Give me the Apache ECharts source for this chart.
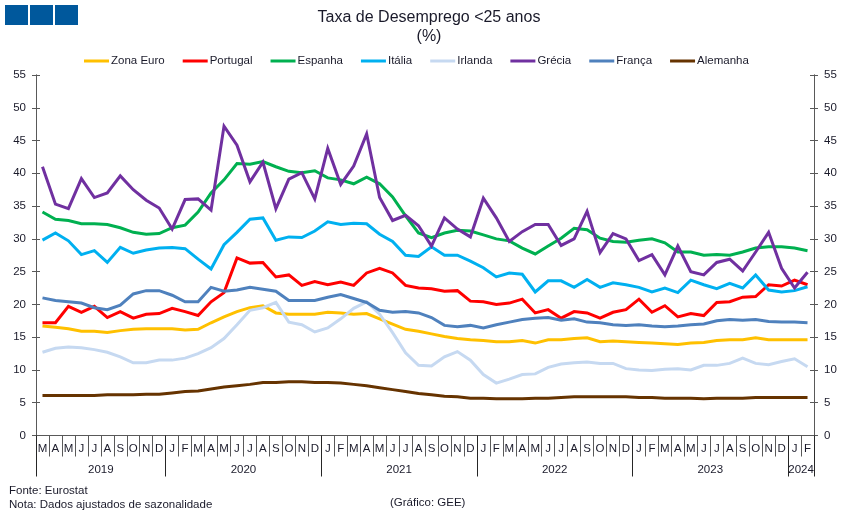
<!doctype html>
<html lang="pt">

<head>
    <meta charset="utf-8">
    <title>Taxa de Desemprego</title>
    <script src="https://cdn.jsdelivr.net/npm/echarts@6/dist/echarts.min.js"></script>
    <style type="text/css">
        html, body { margin: 0; padding: 0; background: #fff; }
        #chart { width: 851px; height: 518px; }
    </style>
</head>

<body>
    <div id="chart"></div>
    <script>
        const months = ['M','A','M','J','J','A','S','O','N','D',
            'J','F','M','A','M','J','J','A','S','O','N','D',
            'J','F','M','A','M','J','J','A','S','O','N','D',
            'J','F','M','A','M','J','J','A','S','O','N','D',
            'J','F','M','A','M','J','J','A','S','O','N','D',
            'J','F'];
        const years = ['2019','2020','2021','2022','2023','2024'];
        const monthsPerYear = [10, 12, 12, 12, 12, 2];

        const zonaEuro = [16.7,16.5,16.3,15.9,15.9,15.7,16.0,16.2,16.3,16.3,
            16.3,16.1,16.2,17.2,18.1,18.9,19.5,19.8,18.7,18.5,18.5,18.5,
            18.8,18.7,18.5,18.6,17.8,17.0,16.2,15.9,15.5,15.1,14.8,14.6,
            14.5,14.3,14.3,14.5,14.1,14.6,14.6,14.8,14.9,14.3,14.4,14.3,
            14.2,14.1,14.0,13.9,14.1,14.2,14.5,14.6,14.6,14.9,14.6,14.6,
            14.6,14.6];
        const portugal = [17.2,17.2,19.7,18.8,19.7,18.0,18.9,17.9,18.5,18.6,
            19.4,18.9,18.3,20.4,21.8,27.1,26.3,26.4,24.2,24.5,22.9,23.5,
            23.0,23.4,22.9,24.8,25.5,24.8,22.9,22.5,22.4,22.0,22.1,20.5,
            20.4,20.0,20.2,20.8,18.7,19.2,17.9,18.9,18.7,17.9,18.8,19.2,
            20.8,18.8,19.8,18.1,18.6,18.3,20.3,20.4,21.1,21.2,23.0,22.8,
            23.7,23.0];
        const espanha = [34.1,33.0,32.8,32.3,32.3,32.2,31.7,31.0,30.7,30.8,
            31.7,32.1,34.1,37.0,39.0,41.5,41.4,41.8,41.0,40.3,40.1,40.4,
            39.3,39.0,38.4,39.4,38.4,36.4,33.5,30.9,30.2,30.9,31.3,31.2,
            30.6,30.0,29.7,28.6,27.7,28.9,30.1,31.6,31.4,30.1,29.6,29.5,
            29.8,30.0,29.4,28.0,28.0,27.5,27.6,27.5,28.0,28.6,28.8,28.8,
            28.6,28.2];
        const italia = [29.8,30.9,29.7,27.6,28.2,26.4,28.7,27.8,28.3,28.6,
            28.7,28.5,26.9,25.4,29.1,31.0,33.0,33.2,29.8,30.3,30.2,31.2,
            32.6,32.2,32.4,32.3,30.7,29.6,27.5,27.3,28.8,27.5,27.5,26.6,
            25.6,24.2,24.8,24.6,21.9,23.6,23.6,22.6,23.8,22.6,23.3,23.0,
            22.6,21.9,22.5,21.8,23.7,23.0,22.4,23.2,22.5,24.5,22.2,21.9,
            22.1,22.7];
        const irlanda = [12.7,13.3,13.5,13.4,13.1,12.7,12.0,11.1,11.1,11.5,
            11.5,11.8,12.5,13.4,14.8,16.9,19.1,19.5,20.3,17.3,16.9,15.8,
            16.4,17.8,19.4,20.4,18.5,15.7,12.6,10.7,10.6,12.0,12.8,11.5,
            9.3,8.0,8.6,9.3,9.4,10.4,10.9,11.1,11.2,11.0,11.0,10.2,
            10.0,9.9,10.1,10.2,10.0,10.7,10.7,11.0,11.8,11.0,10.8,11.3,
            11.7,10.5];
        const grecia = [41.0,35.3,34.6,39.2,36.3,37.0,39.6,37.5,35.9,34.7,
            31.5,36.0,36.1,34.4,47.2,44.3,38.7,41.7,34.6,39.1,40.1,36.1,
            43.8,38.3,41.1,46.0,36.3,32.8,33.6,32.0,28.9,33.2,31.5,30.3,
            36.2,33.2,29.6,31.1,32.2,32.2,29.0,30.0,34.2,27.9,30.8,30.0,
            26.7,27.6,24.5,28.9,25.0,24.5,26.4,26.9,25.1,28.0,31.0,25.5,
            22.5,24.9];
        const franca = [21.0,20.6,20.4,20.2,19.5,19.2,19.9,21.6,22.1,22.1,
            21.4,20.4,20.4,22.6,22.0,22.2,22.6,22.3,22.0,20.6,20.6,20.6,
            21.1,21.5,20.9,20.3,19.1,18.8,18.9,18.7,18.0,16.8,16.6,16.8,
            16.4,16.9,17.3,17.7,17.9,18.0,17.6,17.8,17.3,17.2,16.9,16.8,
            16.9,16.7,16.6,16.7,16.9,17.0,17.5,17.7,17.6,17.7,17.4,17.3,
            17.3,17.2];
        const alemanha = [6.1,6.1,6.1,6.1,6.1,6.2,6.2,6.2,6.3,6.3,
            6.5,6.7,6.8,7.1,7.4,7.6,7.8,8.1,8.1,8.2,8.2,8.1,
            8.1,8.0,7.8,7.6,7.3,7.0,6.7,6.4,6.2,6.0,5.9,5.7,
            5.7,5.6,5.6,5.6,5.7,5.7,5.8,5.9,5.9,5.9,5.9,5.9,
            5.8,5.8,5.7,5.7,5.7,5.6,5.7,5.7,5.7,5.8,5.8,5.8,
            5.8,5.8];

        const seriesNames = ['Zona Euro','Portugal','Espanha','Itália','Irlanda','Grécia','França','Alemanha'];
        const seriesValues = [zonaEuro, portugal, espanha, italia, irlanda, grecia, franca, alemanha];
        const seriesColors = ['#ffc000','#ff0000','#00b050','#00b0f0','#c6d9f1','#7030a0','#4f81bd','#663300'];

        const fontName = '"Liberation Sans", Arial, sans-serif';
        const textColor = '#1a1a2a';
        const axisColor = '#595959';
        const smallFont = 11.5;

        // year boundaries and the middle of each year, in months from the start
        let yearEdges = [0];
        let yearMiddles = [];
        monthsPerYear.forEach(function (n) {
            let start = yearEdges[yearEdges.length - 1];
            yearEdges.push(start + n);
            yearMiddles.push(start + n / 2);
        });

        function valueAxis(position, inside, showLabel) {
            return {
                type: 'value',
                position: position,
                min: 0,
                max: 55,
                interval: 5,
                splitLine: { show: false },
                axisLine: { show: true, lineStyle: { color: axisColor, width: 1 } },
                axisTick: { show: true, inside: inside, length: 4, lineStyle: { color: axisColor } },
                axisLabel: { show: showLabel, color: textColor, fontFamily: fontName, fontSize: smallFont, margin: 10 }
            };
        }

        function textItem(text, left, top) {
            return {
                type: 'text',
                left: left,
                top: top,
                style: { text: text, fill: textColor, font: smallFont + 'px ' + fontName }
            };
        }

        let myChart = echarts.init(document.getElementById('chart'));
        myChart.setOption({
            animation: false,
            backgroundColor: '#ffffff',
            title: {
                text: 'Taxa de Desemprego <25 anos\n(%)',
                left: 424,
                top: 3,
                textAlign: 'center',
                textStyle: { color: textColor, fontFamily: fontName, fontSize: 16, fontWeight: 'normal', lineHeight: 19 }
            },
            legend: {
                data: seriesNames,
                left: 84,
                top: 55,
                padding: 0,
                itemWidth: 25,
                itemHeight: 3,
                itemGap: 18,
                icon: 'rect',
                textStyle: { color: textColor, fontFamily: fontName, fontSize: smallFont, padding: [0, 0, 0, -3] }
            },
            grid: { left: 36, right: 37, top: 75, bottom: 82.5, containLabel: false },
            xAxis: [{
                type: 'category',
                position: 'bottom',
                data: months,
                boundaryGap: true,
                axisLine: { show: true, onZero: false, lineStyle: { color: axisColor } },
                axisTick: { show: true, length: 21, interval: 0, lineStyle: { color: axisColor } },
                axisLabel: { interval: 0, color: textColor, fontFamily: fontName, fontSize: smallFont, margin: 7 }
            }, {
                type: 'value',
                position: 'bottom',
                min: 0,
                max: months.length,
                splitLine: { show: false },
                axisLine: { show: false },
                axisTick: { show: true, length: 41, customValues: yearEdges, lineStyle: { color: '#262626' } },
                axisLabel: {
                    customValues: yearMiddles,
                    color: textColor,
                    fontFamily: fontName,
                    fontSize: smallFont,
                    margin: 28,
                    formatter: function (value) { return years[yearMiddles.indexOf(value)]; }
                }
            }],
            yAxis: [
                valueAxis('left', false, true),
                valueAxis('left', true, false),
                valueAxis('right', false, true),
                valueAxis('right', true, false)
            ],
            series: seriesNames.map(function (name, i) {
                return {
                    name: name,
                    type: 'line',
                    xAxisIndex: 0,
                    yAxisIndex: 0,
                    data: seriesValues[i],
                    showSymbol: false,
                    symbol: 'none',
                    smooth: false,
                    color: seriesColors[i],
                    lineStyle: { color: seriesColors[i], width: 3, join: 'miter' }
                };
            }),
            graphic: [
                { type: 'rect', shape: { x: 5, y: 5, width: 23, height: 20 }, style: { fill: '#00589c' } },
                { type: 'rect', shape: { x: 30, y: 5, width: 23, height: 20 }, style: { fill: '#00589c' } },
                { type: 'rect', shape: { x: 55, y: 5, width: 23, height: 20 }, style: { fill: '#00589c' } },
                textItem('Fonte: Eurostat', 9, 485),
                textItem('Nota: Dados ajustados de sazonalidade', 9, 499),
                textItem('(Gráfico: GEE)', 390, 497)
            ]
        });
    </script>
</body>

</html>
